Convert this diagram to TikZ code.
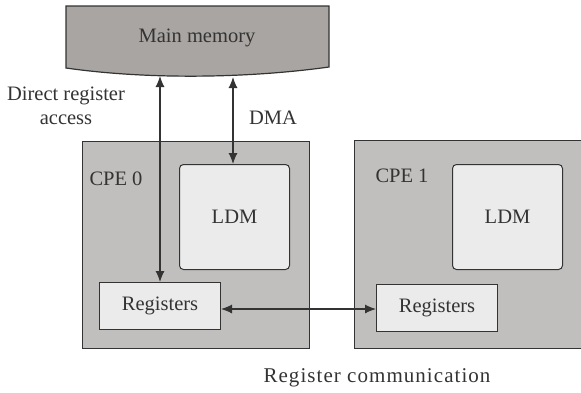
\documentclass[tikz,border=0pt]{standalone}
\usepackage{fontspec}
\setmainfont{Liberation Serif}
\usetikzlibrary{arrows.meta}

\definecolor{memgray}{HTML}{A9A5A2}
\definecolor{cpegray}{HTML}{C1BFBD}
\definecolor{boxgray}{HTML}{EBEBEB}
\definecolor{ink}{HTML}{333333}

\begin{document}
\begin{tikzpicture}[x=1pt, y=-1pt,
				>={Latex[length=11pt,width=9pt]},
				every node/.style = {font=\fontsize{20.5}{24}\selectfont, text=ink},
				cpe/.style = {draw=ink, fill=cpegray, line width=1pt},
				ldmbox/.style = {draw=ink, fill=boxgray, line width=1pt, rounded corners=4pt,
					minimum width=110pt, minimum height=105pt, anchor=north west},
				regbox/.style = {draw=ink, fill=boxgray, line width=1pt,
					minimum width=121pt, minimum height=47pt, anchor=north west},
				link/.style = {<->, draw=ink, line width=1.1pt}
			]
			\useasboundingbox (0,0) rectangle (581,392);
			\clip (0,0) rectangle (581,392);
			% main memory
			\draw[fill=memgray, draw=ink, line width=1.2pt]
				(66,6) -- (329,6) -- (329,67)
				.. controls (250,78) and (150,80) .. (66,68) -- cycle;
			\node (mem) at (197,38) {Main memory};
			\coordinate (memdra) at (160,76);
			\coordinate (memdma) at (233,77);
			% processing elements
			\draw[cpe] (82,141) rectangle (309,348);
			\draw[cpe] (590,140) -- (354,140) -- (354,348) -- (590,348);
			\node (cpe0) at (116,179) {CPE 0};
			\node (cpe1) at (402,176) {CPE 1};
			\node[ldmbox] (ldm0) at (179,164) {LDM};
			\node[ldmbox] (ldm1) at (452,164) {LDM};
			\node[regbox] (reg0) at (99,282) {Registers};
			\node[regbox] (reg1) at (376,284) {Registers};
			% connections
			\draw[link] (memdra) -- (memdra |- reg0.north);
			\draw[link] (memdma) -- (memdma |- ldm0.north);
			\draw[link] (reg0.east |- 0,309) -- (reg1.west |- 0,309);
			\node[align=center] (dra) at (66,106) {Direct register\\access};
			\node (dma) at (273,118) {DMA};
			\node[font=\fontsize{21}{25}\selectfont\addfontfeatures{LetterSpace=5}] (regcom) at (377,378) {Register communication};
		\end{tikzpicture}
\end{document}
